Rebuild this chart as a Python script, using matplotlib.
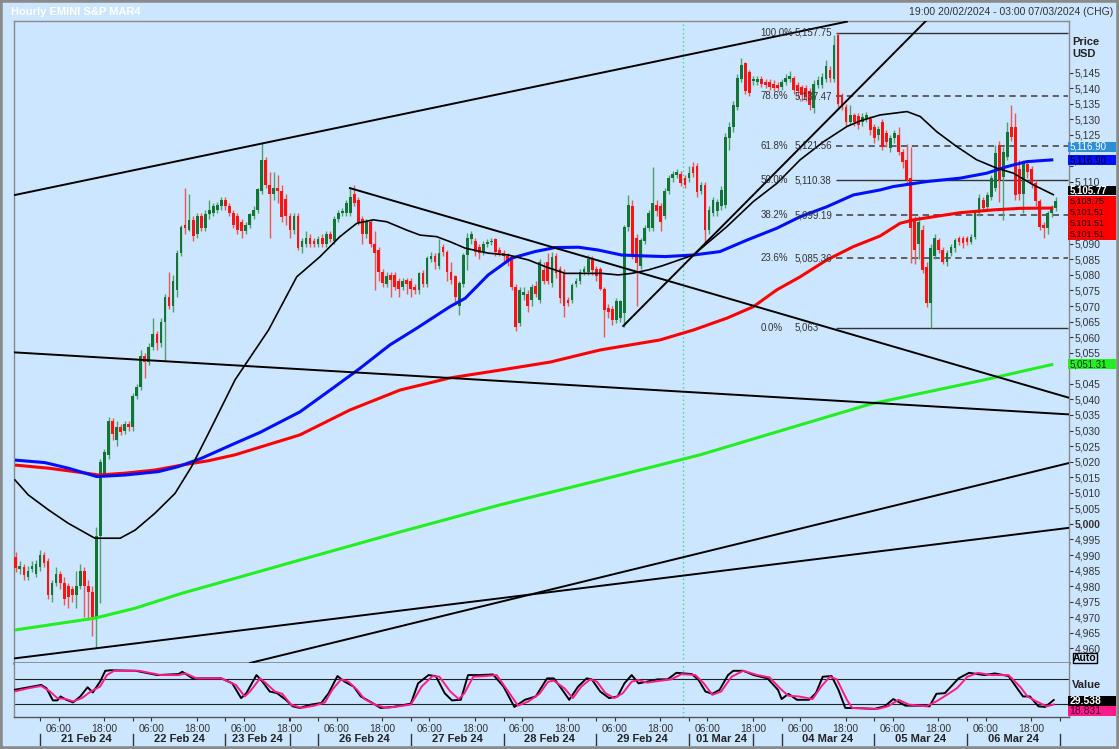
import numpy as np
import matplotlib
matplotlib.use('Agg')
import matplotlib.pyplot as plt
from matplotlib.patches import Rectangle
from matplotlib.transforms import blended_transform_factory as blend

plt.rcParams['font.family'] = ['Liberation Sans', 'DejaVu Sans']

# ---- candles: hourly bars, index 0 = 21 Feb 00:00 (first bar at -6) ----
first_bar = -6
opens = [
    4989.5, 4985.5, 4986, 4983, 4985.5, 4984,
    4986, 4990, 4988, 4977, 4981, 4984, 4981, 4980, 4979, 4977, 4980, 4985, 4980, 4978, 4970, 4996, 5016, 5022, 5033, 5027, 5031, 5030, 5032,
    5031, 5041, 5044, 5054, 5052, 5057, 5061, 5058, 5065, 5073, 5070, 5075, 5087, 5096, 5094.5, 5097.5, 5093, 5099, 5095, 5099.5, 5100, 5101, 5102,
    5104, 5102, 5100, 5099, 5097, 5094, 5096, 5099, 5101, 5107, 5117, 5109, 5106, 5108, 5107, 5104.5, 5099, 5094.5, 5099, 5089, 5090, 5092, 5091,
    5090, 5092, 5090, 5093, 5091, 5098, 5100, 5100, 5100, 5106, 5104, 5098, 5093, 5097, 5090, 5088, 5081, 5077, 5080, 5080, 5078, 5076, 5078.5,
    5078, 5076, 5075, 5080.5, 5077, 5085, 5086, 5083, 5089, 5087.5, 5081, 5079.5, 5070, 5077, 5086.5, 5091.5, 5091, 5089, 5087.5, 5090, 5090.5, 5091.5, 5088,
    5087, 5086, 5085, 5076, 5064.5, 5073.5, 5074, 5072, 5076.5, 5072, 5081.5, 5084, 5077.3, 5086, 5082, 5080.5, 5072, 5072, 5077, 5078, 5081, 5081, 5085,
    5082, 5082, 5075.5, 5069.5, 5069, 5065.5, 5066, 5067.7, 5095.5, 5102, 5091.8, 5083, 5091, 5095, 5095, 5102.5, 5102, 5099, 5107, 5111, 5112, 5112.5, 5111,
    5111, 5114.6, 5115, 5107, 5109, 5094.5, 5100, 5100.5, 5102, 5102.5, 5124, 5127.6, 5134, 5143, 5148, 5145.3, 5142.2, 5142, 5143, 5142, 5142, 5141.5, 5141,
    5140.5, 5142, 5143, 5143.2, 5141, 5140.5, 5140, 5139, 5133.6, 5141, 5141, 5143, 5146, 5143, 5157, 5137.8, 5134, 5129.3, 5131.3, 5131, 5129, 5130, 5130,
    5127.6, 5125, 5129, 5125.5, 5120.7, 5123.9, 5125, 5119.6, 5117, 5111, 5097.7, 5090, 5094.5, 5082.7, 5070.9, 5086, 5091.2, 5088, 5084.3, 5087, 5088.6, 5091.8, 5091.8,
    5091.8, 5090.7, 5092.3, 5099.8, 5104, 5101.9, 5105, 5108, 5121.7, 5111.5, 5118, 5127.6, 5127.6, 5114, 5106, 5115.5, 5114, 5109.5, 5103.6, 5096, 5095, 5099.8, 5101.4,
]
closes = [
    4985.7, 4986.5, 4983.5, 4985, 4986.5, 4987,
    4990, 4987.5, 4977, 4981, 4984, 4981, 4976, 4976.5, 4977, 4980, 4985, 4980, 4978, 4970, 4996, 5020, 5023, 5033, 5029, 5031, 5029.5, 5032, 5031,
    5041, 5044, 5054, 5052, 5057, 5061, 5058, 5065, 5073, 5070, 5078, 5087, 5095.5, 5095, 5097.5, 5092.5, 5099, 5095, 5099.5, 5101, 5102, 5102.5, 5104,
    5102, 5100, 5096, 5094.5, 5094, 5096, 5099.5, 5101, 5107.5, 5117, 5109, 5106, 5108, 5107, 5098.5, 5099, 5094.4, 5099, 5088.5, 5091, 5092, 5090, 5090,
    5091.5, 5090, 5093, 5091.5, 5098, 5100, 5100.5, 5103, 5105, 5103, 5097, 5093, 5097, 5090, 5087, 5081, 5077.5, 5079.5, 5078.5, 5076, 5075.5, 5078, 5077,
    5075.5, 5075, 5080.5, 5077, 5085.5, 5086, 5084, 5087, 5087.5, 5081, 5078.4, 5073, 5077.3, 5086.5, 5091.8, 5093, 5087.5, 5087, 5090, 5090.5, 5091, 5087.5, 5087,
    5086, 5084.3, 5076.2, 5063.4, 5075.2, 5074.5, 5070, 5076.2, 5074, 5084.3, 5078, 5078, 5085.9, 5080.5, 5072.5, 5070, 5071, 5076.8, 5078, 5081, 5082, 5085, 5081.5,
    5079.5, 5075.5, 5068.8, 5068.2, 5065.5, 5071.5, 5071.5, 5095.5, 5102.5, 5086, 5083.8, 5091.2, 5095, 5099.8, 5103, 5100.4, 5097, 5107, 5111, 5112.5, 5113, 5109.5, 5108.9,
    5112.6, 5112.6, 5106.7, 5109, 5094.5, 5100.9, 5104, 5103.5, 5107.3, 5124.4, 5127.6, 5134.6, 5143.2, 5147.5, 5139, 5138.4, 5143, 5143, 5141.5, 5141, 5140.5, 5140, 5140,
    5142, 5143.2, 5144, 5139.4, 5139, 5137.8, 5137.3, 5134.6, 5141.5, 5142.7, 5143.7, 5147, 5143.2, 5153.9, 5135, 5134, 5129.3, 5131.5, 5129.3, 5128.2, 5130.8, 5131.3, 5126.6,
    5124, 5127, 5121.2, 5122.8, 5123.9, 5125.5, 5119.6, 5116.4, 5110.5, 5095, 5088, 5097, 5081.6, 5070.9, 5088.6, 5091.8, 5088, 5084.3, 5087, 5089, 5091.2, 5090.7, 5090.2,
    5090.7, 5092.3, 5099.8, 5104.6, 5101.4, 5105.7, 5111, 5119.1, 5110.5, 5119.6, 5126, 5124.4, 5105.7, 5106, 5116, 5113, 5109.5, 5103.6, 5095.5, 5095, 5099.8, 5101.4, 5103.75,
]
highs = [
    4991, 4988, 4987, 4986.5, 4988, 4988.5,
    4991.5, 4991, 4989, 4982, 4986, 4985, 4983, 4981, 4980, 4985, 4987, 4986, 4982, 4980, 4999, 5021, 5024, 5034.5, 5034, 5033, 5032, 5033, 5033,
    5042, 5045, 5056, 5055, 5058, 5066, 5062, 5066, 5074, 5081, 5080, 5088, 5096, 5107.8, 5106, 5099, 5100, 5100, 5101, 5104, 5103, 5103.5, 5105,
    5105, 5103, 5101, 5100, 5098, 5097, 5100, 5102, 5108, 5122.5, 5118, 5113, 5113, 5112, 5109, 5106, 5100, 5100, 5100, 5092, 5094, 5093, 5092,
    5092.5, 5093, 5094, 5094, 5099, 5101, 5101.5, 5104, 5108.3, 5108.8, 5105, 5099, 5098, 5098, 5094, 5089, 5082, 5081, 5081, 5081, 5079, 5079, 5079,
    5079, 5077, 5081, 5081.5, 5086, 5087.5, 5087, 5091.7, 5090, 5088, 5084, 5080, 5078, 5087, 5093.5, 5094, 5092, 5090, 5091, 5091.5, 5092, 5092, 5089,
    5088, 5087, 5086, 5077, 5076, 5076, 5075, 5077, 5078, 5085, 5084, 5087, 5087.5, 5087, 5083, 5082, 5073, 5077.5, 5079, 5082, 5083, 5086.5, 5086,
    5083, 5082.5, 5076, 5070.5, 5070, 5072.5, 5072, 5096, 5105.8, 5104, 5093, 5092, 5096, 5101, 5114.8, 5104, 5103, 5108, 5112, 5113.5, 5114, 5113.5, 5112,
    5115, 5116.4, 5116, 5110, 5110, 5102, 5105, 5104.5, 5108.5, 5125.5, 5129, 5136, 5144.5, 5149.6, 5148.5, 5146, 5144, 5144, 5144, 5143, 5143, 5142.5, 5142,
    5143, 5144.5, 5145.5, 5144, 5142, 5141, 5141, 5140, 5142.5, 5144, 5145, 5149, 5147, 5157.1, 5157.75, 5138.5, 5135, 5134.6, 5132, 5132, 5132, 5132.5, 5131,
    5128.5, 5128, 5130, 5126.5, 5125, 5126.5, 5127.5, 5120.5, 5122, 5121.2, 5099, 5098.8, 5096, 5084, 5090, 5093, 5092, 5089, 5088, 5090, 5092, 5092.5, 5092.5,
    5092.5, 5093, 5100.8, 5106, 5105, 5106.5, 5112, 5121.7, 5123, 5121, 5129, 5134.6, 5132, 5117, 5117, 5116.5, 5115, 5110.5, 5104.5, 5097, 5100.5, 5102.5, 5105,
]
lows = [
    4984.5, 4984, 4982, 4982, 4984.5, 4983,
    4985, 4986, 4976, 4975, 4980, 4979, 4974, 4973, 4975, 4973, 4979, 4970, 4969, 4964, 4960, 4974.5, 5015, 5021, 5027, 5025, 5028.5, 5029, 5030,
    5030, 5040, 5043, 5047, 5051, 5056, 5056, 5057, 5052.5, 5069, 5068, 5073, 5086, 5093, 5094, 5091, 5092, 5094, 5094, 5098, 5099, 5100, 5101,
    5101, 5099, 5095, 5093, 5092, 5093, 5095, 5098, 5100, 5106, 5108, 5092, 5104, 5103, 5097, 5096, 5092, 5093, 5088, 5087, 5089, 5089, 5089,
    5089, 5089, 5089, 5090.5, 5090, 5097, 5099, 5099, 5099, 5102, 5096, 5090, 5092, 5089, 5075, 5078, 5076, 5076, 5073, 5075, 5073, 5075, 5074,
    5073, 5074, 5074, 5076, 5076, 5084, 5082, 5082, 5086, 5078, 5077, 5071, 5067.2, 5076, 5081.5, 5090, 5086, 5085, 5086.5, 5089, 5089.5, 5086, 5086,
    5084, 5083, 5075, 5062, 5063.5, 5072, 5068, 5070, 5073, 5071, 5077, 5077, 5076, 5079, 5071, 5066.5, 5070, 5071, 5076, 5077, 5080, 5080, 5080,
    5078, 5075, 5060.2, 5066, 5064, 5064.5, 5065, 5063.4, 5094, 5085, 5070, 5082, 5090, 5094, 5094, 5099, 5094, 5098, 5106, 5110, 5111, 5108.5, 5108,
    5110, 5111.5, 5105, 5106, 5090.2, 5093, 5099, 5099, 5101, 5101.5, 5120, 5126, 5133, 5142, 5138, 5137.5, 5141, 5141, 5140.5, 5140, 5139.5, 5139, 5139,
    5139.5, 5141, 5142, 5138, 5137, 5136, 5136, 5133, 5132, 5140, 5140, 5142, 5142, 5142, 5134, 5133, 5128, 5128.5, 5128, 5127, 5128, 5129, 5125,
    5122.5, 5123.5, 5120, 5121, 5119.5, 5122.5, 5118.5, 5114.3, 5109.5, 5083.7, 5083.6, 5085, 5080.5, 5069.8, 5063, 5085, 5087, 5083.5, 5083, 5086, 5087.5, 5089.5, 5088.5,
    5089.5, 5090, 5091.5, 5099, 5100.5, 5101, 5104, 5107, 5103.5, 5097.7, 5117, 5123, 5104, 5104, 5099.8, 5111, 5108, 5102, 5094.5, 5091.8, 5093, 5098.5, 5100.5,
]

# ---- moving averages (bar index, price) ----
ma_black_x = [-6.2, -2.9, 2.1, 7.0, 13.6, 19.9, 23.6, 28.5, 33.5, 37.6, 41.8, 45.1, 48.4, 56.7, 63.7, 69.5, 74.4, 78.6, 82.7,
              86.0, 91.0, 94.3, 98.4, 101.7, 105.5, 111.2, 116.2, 121.2, 125.3, 130.3, 135.2, 139.4, 143.5, 146.8, 150.9,
              154.3, 162.1, 170.4, 177.0, 182.8, 188.6, 194.4, 200.2, 203.5, 208.4, 215.1, 218.4, 222.5, 227.5, 232.4,
              237.4, 241.5, 246.5, 251.4]
ma_black_y = [5014.1, 5009.3, 5004.5, 5000.2, 4995.4, 4995.4, 4998, 5003.4, 5009.8, 5018.4, 5029.1, 5037.7, 5046.3, 5062.3,
              5079.4, 5085.9, 5092.3, 5096.6, 5097.7, 5097.1, 5094.4, 5092.8, 5092.3, 5090.7, 5088.6, 5087, 5086.4, 5084.8,
              5082.7, 5080.5, 5080.5, 5080.5, 5080, 5080.5, 5081.6, 5082.9, 5086.4, 5095.5, 5103.6, 5109.4, 5117, 5122.8,
              5127.7, 5129.5, 5131.4, 5132.5, 5130.9, 5126, 5121.2, 5117, 5114.3, 5112.7, 5108.9, 5105.8]
ma_blue_x = [-6.2, 1.2, 7.0, 14.1, 21.1, 29.4, 34.3, 40.1, 48.4, 54.6, 64.5, 72.0, 79.4, 86.8, 93.5, 101.7, 105.5, 111.2,
             117.0, 122.8, 127.8, 133.6, 138.5, 144.3, 150.1, 155.1, 162.1, 168.7, 175.4, 182.8, 188.6, 195.2, 201.8,
             208.4, 211.7, 220.0, 228.3, 234.9, 239.9, 244.8, 251.4]
ma_blue_y = [5020.5, 5019.7, 5017.9, 5015.2, 5015.7, 5016.8, 5018.4, 5021.1, 5025.9, 5029.4, 5036, 5043, 5050, 5057.5,
             5062.9, 5069.8, 5072.5, 5080, 5085.4, 5087.5, 5088.8, 5088.9, 5088.0, 5086.4, 5086.1, 5085.9, 5086.4, 5087.5,
             5091.2, 5095, 5098.7, 5101.9, 5105.7, 5107.3, 5108.4, 5110, 5111.1, 5112.7, 5114.8, 5116.4, 5117.0]
ma_red_x = [-6.2, 2.1, 10.3, 14.5, 21.1, 28.5, 35.2, 41.8, 48.4, 64.5, 76.9, 89.3, 101.7, 114.1, 126.6, 139.0, 153.8,
            162.1, 170.4, 177.0, 182.8, 188.6, 195.2, 201.8, 208.4, 213.4, 216.7, 221.7, 228.3, 236.5, 243.2, 251.4]
ma_red_y = [5018.9, 5017.9, 5016.5, 5015.7, 5016.3, 5017.3, 5018.9, 5020.3, 5022.2, 5028.6, 5036.6, 5043, 5046.9, 5049.4,
            5052, 5055.9, 5059.1, 5062.3, 5066.1, 5069.8, 5075.2, 5079.4, 5084.8, 5089.1, 5092.5, 5096.6, 5097.7, 5098.7,
            5100, 5100.9, 5101.4, 5101.5]
ma_green_x = [-6.2, 13.6, 23.6, 35.2, 48.4, 64.5, 89.3, 114.1, 139.0, 163.8, 188.6, 206.0, 233.3, 251.4]
ma_green_y = [4965.9, 4969.7, 4972.9, 4977.7, 4982.5, 4988.4, 4997.4, 5006.1, 5014.1, 5022.2, 5031.8, 5038.5, 5046, 5051.3]

# ---- trend lines: (x0, y0, x1, y1) ----
trend_lines = [
    (-6.2, 5105.7, 200.2, 5161.4),
    (-6.2, 4956.8, 255.1, 4998.7),
    (52.1, 4955.3, 255.1, 5019.5),
    (-6.2, 5055.1, 255.1, 5035.2),
    (76.9, 5107.9, 255.1, 5040.6),
    (144.7, 5063.6, 220.0, 5161.9),
]

# ---- fibonacci retracement ----
fib_pct = ['100.0%', '78.6%', '61.8%', '50.0%', '38.2%', '23.6%', '0.0%']
fib_val = [5157.75, 5137.47, 5121.56, 5110.38, 5099.19, 5085.36, 5063.0]
fib_txt = ['5,157.75', '5,137.47', '5,121.56', '5,110.38', '5,099.19', '5,085.36', '5,063']
fib_solid = [True, False, False, True, False, False, True]

# ---- stochastic oscillator ----
stk_x = [-6.4, -2.8, 0.3, 1.6, 3.2, 4.3, 5.1, 6.5, 8.2, 10.0, 11.8, 13.1, 14.9, 16.2, 17.5, 23.8, 29.1, 34.4, 35.3, 37.9,
         45, 47.7, 49.9, 51.2, 53.7, 55.2, 57, 58.8, 61, 62.7, 64.5, 67.2, 69.8, 71.6, 73.8, 75.6, 77.8, 79.6, 82.2,
         84.5, 87.6, 92, 93.8, 96.4, 98.2, 100.4, 102.2, 104.4, 106.2, 108.8, 112.4, 115, 117.7, 120.3, 123, 125.8,
         127.5, 129.6, 131.3, 133.5, 135.6, 136.9, 139.0, 141.2, 143.3, 145, 146.8, 148.5, 150.6, 153.2, 155.7,
         157.9, 161.7, 163.4, 165.1, 166.8, 168.6, 170.7, 172, 174.5, 177.1, 180.5, 183.1, 184, 185.7, 187.8, 190.8,
         192.5, 194.2, 196.4, 198.1, 199.8, 203.6, 207, 209.6, 211.7, 214.7, 218.1, 220.7, 222.4, 224.5, 227.9,
         230.5, 234.3, 236.9, 240.3, 242.6, 243.9, 245.6, 247.7, 249.4, 251.5]
stk_y = [53.5, 59.7, 65.2, 57.4, 28.6, 28.6, 37.9, 30.1, 23.9, 37.9, 59.7, 47.3, 73, 98.7, 100, 98.7, 88.6, 91, 96.4, 80.8,
         80.8, 69, 34, 45.7, 88.6, 73, 49.6, 45.7, 30, 14.6, 10.7, 18.5, 22.4, 45.7, 86.2, 73, 61.3, 37.9, 23.9,
         10.7, 13, 20.8, 69, 88.6, 86.2, 45.7, 28.6, 30, 88.6, 88.6, 90, 61.3, 13, 30, 37.9, 80.8,
         80.8, 53.5, 30, 61.3, 80.8, 78.4, 49.6, 34, 37.9, 69, 88.6, 69, 73, 78.4, 78.4,
         94, 91, 76.9, 49.6, 44.2, 53.5, 88.6, 98.7, 98.7, 88.6, 80.8, 53.5, 31.7, 44.2, 30, 30,
         45.7, 84.7, 86.2, 53.5, 10.7, 10, 8.3, 14.6, 31.7, 16.1, 16.1, 14.6, 44.2, 45.7, 80.8,
         94, 88.6, 92.5, 86.2, 55, 37.9, 37.9, 14.6, 13, 29.5]
sig_x = [-6.4, -2.8, 0.3, 2.5, 4.3, 6.5, 8.2, 10.4, 12.6, 14.9, 16.6, 18.4, 24.6, 30, 34.4, 36.2, 38.8, 45, 48.6, 50.8,
         52.1, 54.6, 56.1, 58.3, 60.1, 62.3, 64.9, 68.1, 70.7, 72.5, 74.7, 76.5, 78.7, 80.5, 83.1, 85.8, 92, 94.7,
         97.4, 99.1, 101.8, 103.9, 105.3, 107.5, 110.6, 113.3, 115.9, 118.6, 121.2, 123.9, 126.1, 127.5, 130.1,
         132.2, 134.3, 136.5, 138.2, 140.3, 142.5, 144.6, 146.8, 148.5, 150.6, 154.1, 156.6, 159.2, 162.6, 164.7,
         166.8, 169, 171.6, 174.5, 178, 181, 184, 185.7, 188.3, 191.7, 193.8, 196, 197.7, 200.2, 201.5, 207.9,
         210.4, 213, 215.6, 219.9, 222.4, 225, 227.5, 230.1, 232.7, 236.1, 240.3, 243.3, 245, 247.2, 249.8, 251.5]
sig_y = [49.6, 57.4, 62.9, 49.6, 34, 31.7, 26.2, 34, 49.6, 61.3, 88.6, 98.7, 98.7, 88.6, 88.6, 92.5, 80.8, 80.8, 65.2, 37.9,
         49.6, 80.8, 69, 49.6, 44.2, 18.5, 10.7, 16.1, 23.9, 53.5, 78.4, 73, 53.5, 31.7, 18.5, 10.7, 18.5, 61.3,
         86.2, 84.7, 49.6, 31.7, 45.7, 84.7, 86.2, 88.6, 53.5, 16.1, 26.2, 44.2, 73, 75.3, 57.4,
         34, 61.3, 78.4, 73, 45.7, 34, 45.7, 73, 76.9, 70.7, 75.3, 78.4, 91, 88.6, 69,
         41.8, 49.6, 84.7, 98.7, 88.6, 83.1, 53.5, 39.5, 37.9, 31.7, 61.3, 84.7, 78.4, 30, 10.7, 8.3,
         14.6, 30, 18.5, 14.6, 26.2, 41.8, 57.4, 84.7, 94, 88.6, 88.6, 59.7, 37.9, 26.2, 14.6, 18.8]

# ---- time axis ----
day_starts = [0, 23, 46, 69, 92, 115, 138, 161, 184, 207, 230]
day_ends = [23, 46, 62, 92, 115, 138, 161, 177, 207, 230, 253]
day_names = ['21 Feb 24', '22 Feb 24', '23 Feb 24', '26 Feb 24', '27 Feb 24', '28 Feb 24',
             '29 Feb 24', '01 Mar 24', '04 Mar 24', '05 Mar 24', '06 Mar 24']
separators = [0, 23, 46, 62, 69, 92, 115, 138, 161, 177, 184, 207, 230, 253]
marker_bar = 159.5

# ---- right-hand value tags ----
tag_blue_top = 5116.90
tag_blue = 5116.90
tag_black = 5105.77
tag_red = [5103.75, 5101.51, 5101.51, 5101.51]
tag_green = 5051.31
tag_osc = [29.538, 18.831]
hidden_ticks = [5120, 5115, 5105, 5100, 5095, 5050]   # covered by the tags

W, H = 1119, 749
BG = '#cce6ff'


def fx(px):
    return px / W


def fy(py):
    return 1 - py / H


fig = plt.figure(figsize=(W / 100, H / 100), dpi=100, facecolor=BG)
ax = fig.add_axes([fx(14), fy(663.3), fx(1068.6) - fx(14), fy(21) - fy(663.3)])
osc = fig.add_axes([fx(14), fy(717.3), fx(1068.6) - fx(14), fy(663.3) - fy(717.3)], sharex=ax)
for a in (ax, osc):
    a.set_facecolor(BG)
    for s in a.spines.values():
        s.set_color('#8a8a8a')
        s.set_linewidth(1)
ax.spines['bottom'].set_linewidth(2)
osc.spines['top'].set_visible(False)
osc.spines['bottom'].set_color('#555555')

xlo, xhi = -6.45, 255.2
ax.set_xlim(xlo, xhi)
ax.set_ylim(4955.2, 5161.6)
osc.set_ylim(-11.5, 116.5)

# candles
o = np.array(opens)
c = np.array(closes)
hi = np.maximum(np.array(highs), np.maximum(o, c))
lo = np.minimum(np.array(lows), np.minimum(o, c))
n = np.arange(first_bar, first_bar + len(o))
up = c >= o
wick_col = np.where(up, '#4f9f6f', '#f05555')
body_col = np.where(up, '#127535', '#ff1111')
ax.vlines(n, lo, hi, colors=wick_col, linewidth=1, zorder=3)
body_h = np.where(np.abs(c - o) < 0.45, 0.45, np.abs(c - o))
ax.bar(n, body_h, bottom=np.minimum(o, c), width=0.68, color=body_col, linewidth=0, zorder=4)

# moving averages
ax.plot(ma_green_x, ma_green_y, color='#22ee22', lw=2.2, zorder=5, solid_capstyle='butt')
ax.plot(ma_red_x, ma_red_y, color='#ff0000', lw=2.2, zorder=5, solid_capstyle='butt')
ax.plot(ma_blue_x, ma_blue_y, color='#0010ff', lw=2.2, zorder=5, solid_capstyle='butt')
ax.plot(ma_black_x, ma_black_y, color='black', lw=1.2, zorder=5)

# trend lines
for x0, y0, x1, y1 in trend_lines:
    ax.plot([x0, x1], [y0, y1], color='black', lw=1.4, zorder=6)

# fibonacci
for pct, val, txt, solid in zip(fib_pct, fib_val, fib_txt, fib_solid):
    if solid:
        ax.hlines(val, 197.5, 255.0, color='#333333', lw=1, zorder=2)
    else:
        ax.hlines(val, 197.5, 255.0, color='#555555', lw=1.3, linestyles=(0, (3.5, 2.5)), zorder=2)
    ax.text(178.7, val, pct, fontsize=7, color='#333333', va='center', ha='left', zorder=7)
    ax.text(187.3, val, txt, fontsize=7, color='#333333', va='center', ha='left', zorder=7)

# dotted marker
for a in (ax, osc):
    a.axvline(marker_bar, color='#3ad6a0', lw=1, ls=(0, (1, 2)), zorder=1)

# oscillator
osc.axhline(80, color='#222222', lw=0.8)
osc.axhline(20, color='#222222', lw=0.8)
osc.plot(stk_x, stk_y, color='black', lw=1.4, zorder=3)
osc.plot(sig_x, sig_y, color='#ff1a8c', lw=1.4, zorder=4)

# price axis on the right
yt = list(range(4960, 5146, 5))
ax.yaxis.tick_right()
ax.set_yticks(yt)
ax.set_yticklabels(['' if v in hidden_ticks else f'{v:,}' for v in yt])
ax.tick_params(axis='y', direction='out', length=3, width=0.8, colors='#333333',
               labelsize=7.5, pad=1.5)
for lab in ax.get_yticklabels():
    if lab.get_text() == '5,000':
        lab.set_fontweight('bold')
ax.tick_params(axis='x', bottom=False, labelbottom=False)
osc.set_yticks([])

# time axis
hour_pos, hour_lab = [], []
for d in day_starts:
    hour_pos += [d + 4.6, d + 15.9]
    hour_lab += ['06:00', '18:00']
osc.set_xticks(hour_pos)
osc.set_xticklabels(hour_lab)
osc.set_xticks(separators, minor=True)
osc.tick_params(axis='x', which='both', direction='out', length=3, width=0.8,
                colors='#333333', labelsize=7.5, pad=2)
xt = blend(osc.transData, osc.transAxes)
for d0, d1, name in zip(day_starts, day_ends, day_names):
    osc.text((d0 + d1) / 2, -0.40, name, transform=xt, ha='center', va='center',
             fontsize=8, fontweight='bold', color='#222222', clip_on=False)
for s in separators:
    osc.plot([s, s], [-0.30, -0.52], transform=xt, color='#333333', lw=1, clip_on=False)

# header
fig.text(fx(11), fy(12), 'Hourly EMINI S&P MAR4', color='white', fontweight='bold',
         fontsize=8, va='center', ha='left')
fig.text(fx(1113), fy(12), '19:00 20/02/2024 - 03:00 07/03/2024 (CHG)', color='#333333',
         fontsize=7.5, va='center', ha='right')
fig.text(fx(1072), fy(42), 'Price', fontweight='bold', fontsize=8, va='center', color='#222222')
fig.text(fx(1072), fy(54), 'USD', fontweight='bold', fontsize=8, va='center', color='#222222')
fig.text(fx(1072), fy(685), 'Value', fontweight='bold', fontsize=8, va='center', color='#222222')

# Auto box
fig.add_artist(Rectangle((fx(1072.5), fy(663)), fx(1096.5) - fx(1072.5), fy(653) - fy(663),
                         transform=fig.transFigure, fill=False, edgecolor='black', lw=1, zorder=6))
fig.text(fx(1084.5), fy(658), 'Auto', fontweight='bold', fontsize=7.5, ha='center', va='center', zorder=7)

# value tags
tr = blend(fig.transFigure, ax.transData)
px_pt = 3.112


def tag(yc, hpx, text_list, face, tcol, weight='normal', size=7):
    h = hpx / px_pt
    fig.add_artist(Rectangle((fx(1068), yc - h / 2), fx(1116) - fx(1068), h, transform=tr,
                             facecolor=face, edgecolor='none', zorder=8))
    step = h / len(text_list)
    for i, t in enumerate(text_list):
        fig.text(fx(1069.5), yc + h / 2 - step * (i + 0.5), t, transform=tr, fontsize=size,
                 color=tcol, va='center', ha='left', fontweight=weight, zorder=9)


tag(tag_blue_top + 4.3, 10, [f'{tag_blue_top:,.2f}'], '#2d8fd5', 'white')
tag(tag_blue, 10, [f'{tag_blue:,.2f}'], '#0010ff', '#000033')
tag(tag_black + 1.4, 9.5, [f'{tag_black:,.2f}'], 'black', 'white', 'bold')
tag(tag_red[0] - 5.3, 44, [f'{v:,.2f}' for v in tag_red], '#ff0000', '#200000', size=6.5)
tag(tag_green, 10.5, [f'{tag_green:,.2f}'], '#22ee22', '#003300')

tro = blend(fig.transFigure, osc.transData)
ou = 2.372
for i, (v, face, tcol) in enumerate(zip(tag_osc, ['black', '#ff1a8c'], ['white', '#400020'])):
    top = 39.2 - i * 10 * ou
    fig.add_artist(Rectangle((fx(1068), top - 10 * ou), fx(1116) - fx(1068), 10 * ou, transform=tro,
                             facecolor=face, edgecolor='none', zorder=8))
    fig.text(fx(1069.5), top - 5 * ou, f'{v:.3f}', transform=tro, fontsize=7.5, color=tcol,
             va='center', ha='left', fontweight='bold' if i == 0 else 'normal', zorder=9)

# outer frame
fig.add_artist(Rectangle((0, 0), 1, 1, transform=fig.transFigure, fill=False,
                         edgecolor='#8a8a8a', lw=4, zorder=10))

fig.savefig('out.png', dpi=100, facecolor=BG)
